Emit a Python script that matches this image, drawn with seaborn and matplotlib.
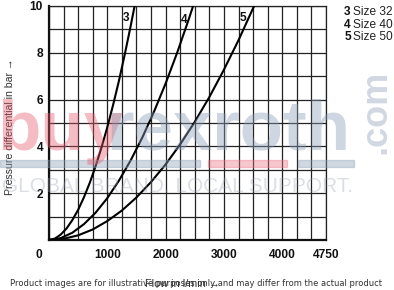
import matplotlib
matplotlib.use("Agg")
import matplotlib.pyplot as plt
import seaborn as sns
import pandas as pd
import numpy as np

# Data (flow in l/min -> pressure differential in bar)
flow_size32 = [0, 100, 200, 300, 400, 500, 600, 700, 800, 900, 1000, 1100, 1200, 1300, 1400, 1468]
dp_size32 = [0, 0.06, 0.23, 0.49, 0.85, 1.29, 1.83, 2.45, 3.16, 3.95, 4.82, 5.78, 6.81, 7.94, 9.14, 10]
flow_size40 = [0, 200, 400, 600, 800, 1000, 1200, 1400, 1600, 1800, 2000, 2200, 2400, 2471]
dp_size40 = [0, 0.08, 0.31, 0.68, 1.17, 1.79, 2.54, 3.40, 4.38, 5.48, 6.69, 8.02, 9.46, 10]
flow_size50 = [0, 250, 500, 750, 1000, 1250, 1500, 1750, 2000, 2250, 2500, 2750, 3000, 3250, 3517]
dp_size50 = [0, 0.05, 0.20, 0.45, 0.81, 1.26, 1.82, 2.48, 3.23, 4.09, 5.05, 6.11, 7.28, 8.54, 10]
curve_ids = ["3", "4", "5"]
legend_sizes = ["Size 32", "Size 40", "Size 50"]
x_tick_labels = [1000, 2000, 3000, 4000, 4750]
y_tick_labels = [2, 4, 6, 8, 10]

rows = []
for cid, flows, dps in zip(curve_ids, [flow_size32, flow_size40, flow_size50],
                           [dp_size32, dp_size40, dp_size50]):
    for q, p in zip(flows, dps):
        rows.append({"curve": cid, "flow": q, "pressure": p})
df = pd.DataFrame(rows)

sns.set_theme(style="white")
plt.rcParams["font.family"] = ["Liberation Sans", "DejaVu Sans"]

fig = plt.figure(figsize=(3.94, 2.90), dpi=100)
ax = fig.add_axes([49 / 394, 1 - 240 / 290, (326 - 49) / 394, (240 - 6) / 290])

sns.lineplot(data=df, x="flow", y="pressure", hue="curve", units="curve",
             estimator=None, sort=False, palette=["black"] * 3, legend=False,
             linewidth=1.5, ax=ax, zorder=5)

ax.set_xlim(0, 4750)
ax.set_ylim(0, 10)
xt = np.arange(0, 4751, 250)
ax.set_xticks(xt)
ax.set_xticklabels([str(v) if v in x_tick_labels else "" for v in xt])
yt = np.arange(0, 11, 1)
ax.set_yticks(yt)
ax.set_yticklabels([str(v) if v in y_tick_labels else "" for v in yt])
ax.tick_params(axis="x", length=0, pad=6.5, labelsize=8.6, colors="#111111")
ax.tick_params(axis="y", length=0, pad=4.3, labelsize=8.6, colors="#111111")
for lab in ax.get_xticklabels() + ax.get_yticklabels():
    lab.set_fontweight("bold")
ax.grid(True, color="#222222", linewidth=0.9)
ax.set_axisbelow(True)
for side in ["top", "right"]:
    ax.spines[side].set_color("#222222")
    ax.spines[side].set_linewidth(0.9)
for side in ["left", "bottom"]:
    ax.spines[side].set_color("#111111")
    ax.spines[side].set_linewidth(1.6)
ax.set_xlabel("")
ax.set_ylabel("")

ax.annotate("0", xy=(0, 0), xycoords="data", xytext=(-7.2, -11), textcoords="offset points",
            ha="center", va="center", fontsize=8.6, fontweight="bold", color="#111111")

# curve labels
for cid, (qx, py) in zip(curve_ids, [(1320, 9.47), (2325, 9.42), (3325, 9.47)]):
    ax.text(qx, py, cid, ha="center", va="center", fontsize=8.6, fontweight="bold",
            color="#111111", zorder=6)

fig.text(10 / 394, 1 - 127 / 290, "Pressure differential in bar \u2192", rotation=90,
         ha="center", va="center", fontsize=7.6, color="#333333")
fig.text(182 / 394, 1 - 284 / 290, "Flow in l/min \u2192", ha="center", va="center",
         fontsize=7.8, color="#333333")

# legend text
for i, (cid, lab) in enumerate(zip(curve_ids, legend_sizes)):
    yy = 1 - (12 + 12.5 * i) / 290
    fig.text(347.5 / 394, yy, cid, ha="center", va="center", fontsize=8.6,
             fontweight="bold", color="#111111")
    fig.text(353 / 394, yy, lab, ha="left", va="center", fontsize=8.6, color="#222222")

# watermark
wm_gray = (0.55, 0.62, 0.72)
fig.text(-3 / 394, 1 - 150 / 290, "buy", ha="left", va="baseline", fontsize=51,
         fontweight="bold", color=(0.90, 0.35, 0.42), alpha=0.4, zorder=10)
fig.text(106 / 394, 1 - 150 / 290, "rexroth", ha="left", va="baseline", fontsize=51,
         fontweight="bold", color=wm_gray, alpha=0.42, zorder=10)
fig.patches.append(plt.Rectangle((0, 1 - 167 / 290), 200 / 394, 7 / 290, transform=fig.transFigure,
                                 color=wm_gray, alpha=0.4, zorder=10))
fig.patches.append(plt.Rectangle((208 / 394, 1 - 167 / 290), 79 / 394, 7 / 290, transform=fig.transFigure,
                                 color=(0.92, 0.45, 0.52), alpha=0.4, zorder=10))
fig.patches.append(plt.Rectangle((298 / 394, 1 - 167 / 290), 56 / 394, 7 / 290, transform=fig.transFigure,
                                 color=wm_gray, alpha=0.4, zorder=10))
fig.text(178 / 394, 1 - 186 / 290, "GLOBAL BRAND. LOCAL SUPPORT.", ha="center", va="center",
         fontsize=15, color=(0.6, 0.64, 0.7), alpha=0.35, zorder=10)
fig.text(376 / 394, 1 - 112 / 290, ".com", rotation=90, ha="center", va="center",
         fontsize=26, fontweight="bold", color=wm_gray, alpha=0.4, zorder=10)

fig.text(196 / 394, 1 - 283 / 290,
         "Product images are for illustrative purposes only and may differ from the actual product",
         ha="center", va="center", fontsize=6.05, color="#333333", family=["DejaVu Sans"], zorder=11)

fig.savefig("out.png", dpi=100)
